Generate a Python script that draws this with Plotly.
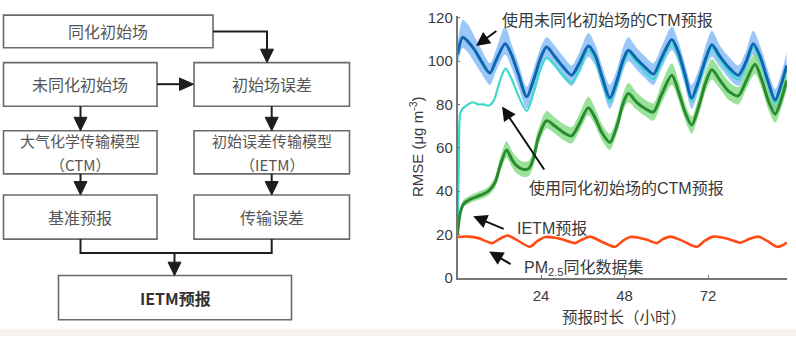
import plotly.graph_objects as go

# ---------------- data ----------------
# CTM forecast from the un-assimilated initial field (line and spread band)
t_blue = [0, 1.5, 3, 5, 7, 9.3, 11, 13.7, 15.5, 17.5,
          19.9, 22, 23.8, 25.6, 28, 30.5, 32.8, 35, 37.6, 39.5,
          41.5, 43.8, 46, 47.5, 49.1, 51.5, 54, 56.3, 58.5, 61.6,
          63.5, 65.5, 67.3, 69.5, 71.3, 73.1, 75.5, 78, 80.7, 83,
          85, 87, 89, 91.3, 93, 94.6]
rmse_blue = [103, 111, 109, 105, 99.5, 94.5, 100, 108, 103, 94,
             83.5, 92, 101, 106.5, 102, 97, 93.5, 99, 107, 103,
             93, 83, 92, 100, 105, 101, 97, 94, 101, 110,
             104, 93, 83, 92, 101, 107.5, 102, 97, 93.5, 100,
             108, 102, 92, 82, 89, 98]
blue_hi = [108, 119, 117, 111, 105, 99, 105, 116, 108, 99,
           88, 97, 106, 111, 107, 102, 98, 104, 113, 108,
           98, 89, 97, 106, 111, 106, 102, 99, 106, 116,
           109, 98, 89, 97, 107, 114, 107, 102, 98, 105,
           114, 107, 97, 87, 94, 104]
blue_lo = [98, 106, 104, 99, 94, 89, 95, 103, 97, 88,
           78, 87, 96, 101, 97, 92, 88.5, 94, 102, 98,
           88, 78, 87, 95, 100, 96, 92, 89, 96, 105,
           99, 88, 78, 87, 96, 102, 97, 92, 88.5, 95,
           103, 97, 87, 77, 84, 92]

# CTM forecast from the assimilated initial field
t_cyan = [0, 0.4, 0.8, 1.5, 3, 4.5, 6, 7.5, 9, 10.5,
          12, 13.8, 15.5, 17.5, 19.9, 22, 23.8, 25.6, 28, 30.5,
          32.8, 35, 37.6, 39.5, 41.5, 43.8, 46, 47.5, 49.1, 51.5,
          54, 56.3, 58.5, 61.6, 63.5, 65.5, 67.3, 69.5, 71.3, 73.1,
          75.5, 78, 80.7, 83, 85, 87, 89, 91.3, 93, 94.6]
rmse_cyan = [20, 55, 76, 78, 80, 81, 80, 80, 79.5, 82,
             90, 96.5, 92, 84, 77, 86, 96, 101.5, 98, 93,
             90, 96, 105, 101, 91, 81, 90, 98, 103.5, 99.5,
             95, 91.5, 99, 108, 102, 91, 81.5, 90, 99.5, 106,
             100.5, 95, 91.5, 98.5, 106.5, 100.5, 90.5, 80.5, 87.5, 96.5]

# IETM forecast (line and spread band)
t_green = [0, 0.8, 1.7, 3.6, 6.5, 8.9, 10.8, 12.2, 14.1, 15.5,
           16.8, 18.9, 20.5, 21.8, 23.2, 25.6, 28, 30.5, 32.8, 35,
           37.6, 39.5, 41.5, 43.8, 46, 47.5, 49.1, 51.5, 54, 56.3,
           58.5, 61.6, 63.5, 65.5, 67.3, 69.5, 71.3, 73.1, 75.5, 78,
           80.7, 83, 85.5, 87.5, 89.5, 91.3, 93, 94.6]
rmse_green = [20, 30, 34, 36.2, 38, 40, 44, 51.5, 59, 55,
              52, 50, 50.5, 55, 64.5, 72.5, 70, 67, 65.5, 71,
              78.5, 74, 67, 62.5, 71, 80, 85, 81, 78, 76.5,
              84, 93.5, 86, 76, 70.5, 80, 90, 96, 91, 86,
              84, 91, 98.5, 91, 81, 75.5, 82, 91]
green_hi = [20.5, 31.5, 36, 38, 40, 42, 46.5, 55, 63, 59,
            56, 53.5, 54, 59, 68.5, 77, 74, 71, 69.5, 75.5,
            83.5, 78.5, 71, 66.5, 75, 84.5, 90, 85.5, 82, 80.5,
            89, 99, 91, 80, 74.5, 84.5, 95, 101, 96, 90.5,
            88, 96, 103.5, 95.5, 85.5, 79.5, 86.5, 95.5]
green_lo = [19.5, 28.5, 32.5, 34.5, 36.2, 38, 41.5, 48.5, 55.5, 51.5,
            48.5, 46.5, 47, 51.5, 61, 69, 66.5, 63.5, 62, 67.5,
            75, 70.5, 63.5, 59, 67.5, 76.5, 81, 77.5, 74.5, 72.5,
            80, 89, 82, 72.5, 66.5, 76, 86, 91.5, 87, 82,
            80, 87, 94, 87, 77, 71.5, 78, 86.5]

# PM2.5 assimilation dataset
t_red = [0, 3, 6, 8, 10, 12, 14.4, 17, 20.8, 23,
         25.2, 28, 30.5, 33.8, 36, 38.1, 41, 45.3, 47.5, 49.6,
         52, 54.5, 57.3, 59, 61.1, 64, 68.8, 71, 73.5, 76,
         78.5, 81.2, 84, 86.5, 89, 91.8, 93.5, 94.6]
rmse_red = [18.8, 19, 18.3, 17, 16, 17.8, 19.5, 17.5, 14.3, 17,
            18.8, 18.5, 17.5, 16, 17.8, 19, 17, 14.3, 17, 18.8,
            18.5, 17.5, 16, 17.8, 19, 17.5, 14.3, 17, 19, 18.6,
            17.6, 16.2, 18, 19, 17, 14.3, 15, 16.3]

x_ticks = [24, 48, 72]
y_ticks = [0, 20, 40, 60, 80, 100, 120]

FONT = "Liberation Sans, Arial, Noto Sans CJK SC, sans-serif"
CJK = "Noto Sans CJK SC, Liberation Sans, sans-serif"

fig = go.Figure()


def band(t, lo, hi, color):
    fig.add_trace(go.Scatter(x=t, y=lo, mode="lines", line=dict(width=0, shape="spline", smoothing=0.8),
                             showlegend=False, hoverinfo="skip"))
    fig.add_trace(go.Scatter(x=t, y=hi, mode="lines", line=dict(width=0, shape="spline", smoothing=0.8),
                             fill="tonexty", fillcolor=color, showlegend=False, hoverinfo="skip"))


def curve(t, v, color, width):
    fig.add_trace(go.Scatter(x=t, y=v, mode="lines",
                             line=dict(color=color, width=width, shape="spline", smoothing=0.8),
                             showlegend=False, hoverinfo="skip"))


band(t_blue, blue_lo, blue_hi, "rgba(120,180,245,0.75)")
curve(t_cyan, rmse_cyan, "#3fd9cc", 2.2)
curve(t_blue, rmse_blue, "#0f66b0", 3)
band(t_green, green_lo, green_hi, "rgba(120,215,120,0.75)")
curve(t_green, rmse_green, "#2a8a2e", 3)
curve(t_red, rmse_red, "#ff4a14", 2.6)

# canvas axes (pixel units) used for the flowchart drawing
fig.add_trace(go.Scatter(x=[], y=[], xaxis="x2", yaxis="y2", showlegend=False, hoverinfo="skip"))

W, H = 796, 344
px_x0, px_x1 = 457.5, 787
px_y0, px_y1 = 283.3, 10

fig.update_layout(
    width=W, height=H,
    margin=dict(l=0, r=0, t=0, b=0),
    paper_bgcolor="white", plot_bgcolor="rgba(0,0,0,0)",
    font=dict(family=FONT, color="#3a3a3a"),
    xaxis=dict(domain=[px_x0 / W, px_x1 / W], range=[0, 94.7], tickvals=x_ticks,
               ticks="inside", ticklen=3, tickcolor="#777", showgrid=False, zeroline=False,
               showline=True, linecolor="#777", linewidth=1.5, tickfont=dict(size=15, color="#3a3a3a"),
               ticklabelstandoff=3, anchor="y"),
    yaxis=dict(domain=[1 - px_y0 / H, 1 - px_y1 / H], range=[0, 121], tickvals=y_ticks,
               ticks="inside", ticklen=3, tickcolor="#777", showgrid=False, zeroline=False,
               showline=True, linecolor="#777", linewidth=1.5, tickfont=dict(size=15, color="#3a3a3a"),
               anchor="x"),
    xaxis2=dict(domain=[0, 1], range=[0, W], visible=False, anchor="y2", fixedrange=True),
    yaxis2=dict(domain=[0, 1], range=[H, 0], visible=False, anchor="x2", fixedrange=True),
)

shapes = []
annots = []

# light strip along the bottom edge
shapes.append(dict(type="rect", xref="x2", yref="y2", x0=0, x1=W, y0=337, y1=H,
                   fillcolor="#f6f2ee", line=dict(width=0), layer="below"))

# flowchart boxes: (x0, y0, x1, y1, text lines, bold)
boxes = [
    (3.5, 9.5, 213, 43.5, ["同化初始场"], False),
    (3.5, 59, 157, 104.5, ["未同化初始场"], False),
    (194, 59, 349.5, 104.5, ["初始场误差"], False),
    (3.5, 130, 157, 175, ["大气化学传输模型", "（CTM）"], False),
    (194, 130, 349.5, 175, ["初始误差传输模型", "（IETM）"], False),
    (3.5, 197, 157, 243, ["基准预报"], False),
    (194, 197, 349.5, 243, ["传输误差"], False),
    (58.5, 281, 291.5, 327, ["IETM预报"], True),
]
for x0, y0, x1, y1, lines, bold in boxes:
    shapes.append(dict(type="rect", xref="x2", yref="y2", x0=x0, x1=x1, y0=y0, y1=y1,
                       line=dict(color="#6a6a6a", width=1.6), fillcolor="white"))
    cx, cy = (x0 + x1) / 2, (y0 + y1) / 2
    color = "#333" if bold else "#555"
    if len(lines) == 1:
        txt = f"<b>{lines[0]}</b>" if bold else lines[0]
        annots.append(dict(xref="x2", yref="y2", x=cx, y=cy, text=txt, showarrow=False,
                           font=dict(family=CJK, size=16, color=color),
                           xanchor="center", yanchor="middle"))
    else:
        # two stacked lines meeting at the box centre
        font = dict(family=CJK, size=15, color=color)
        annots.append(dict(xref="x2", yref="y2", x=cx, y=cy, text=lines[0], showarrow=False,
                           font=font, xanchor="center", yanchor="bottom", borderpad=0))
        annots.append(dict(xref="x2", yref="y2", x=cx, y=cy + 0.5, text=lines[1], showarrow=False,
                           font=font, xanchor="center", yanchor="top", borderpad=0))

LINE = dict(color="#1e1e1e", width=2)


def seg(path):
    shapes.append(dict(type="path", xref="x2", yref="y2", path=path, line=LINE))


def head(x, y, direction, w=13, l=14):
    # filled triangle with its tip at (x, y)
    if direction == "down":
        p = f"M{x},{y} L{x - w / 2},{y - l} L{x + w / 2},{y - l} Z"
    else:  # right
        p = f"M{x},{y} L{x - l},{y - w / 2} L{x - l},{y + w / 2} Z"
    shapes.append(dict(type="path", xref="x2", yref="y2", path=p,
                       fillcolor="#1e1e1e", line=dict(color="#1e1e1e", width=1)))


# connectors
seg("M213,26.5 L267,26.5 L267,48")
head(267, 59, "down")
seg("M157,81.5 L182,81.5")
head(193.5, 81.5, "right")
seg("M80.5,104.5 L80.5,120")
head(80.5, 130, "down")
seg("M271.7,104.5 L271.7,120")
head(271.7, 130, "down")
seg("M80.5,175 L80.5,187")
head(80.5, 197, "down")
seg("M271.7,175 L271.7,187")
head(271.7, 197, "down")
seg("M80.5,243 L80.5,257.5 L271.7,257.5 L271.7,243")
seg("M174.5,257.5 L174.5,270")
head(174.5, 281, "down")

# chart callouts: arrow (tail -> tip) and label
callouts = [
    ((11.6, 114.4), (5.3, 107.0)),
    ((25.2, 49.3), (12.8, 79.0)),
    ((13.7, 22.3), (4.5, 28.4)),
    ((15.7, 5.9), (9.1, 12.1)),
]
for (tx, ty), (hx, hy) in callouts:
    annots.append(dict(x=hx, y=hy, ax=tx, ay=ty, xref="x", yref="y", axref="x", ayref="y",
                       text="", showarrow=True, arrowhead=2, arrowsize=1.4, arrowwidth=2,
                       arrowcolor="#111", standoff=0, startstandoff=0))

labels = [
    (12.2, 118.8, "使用未同化初始场的CTM预报"),
    (19.9, 41.2, "使用同化初始场的CTM预报"),
    (16.5, 22.9, "IETM预报"),
    (18.5, 4.4, "PM<sub>2.5</sub>同化数据集"),
]
for x, y, s in labels:
    annots.append(dict(x=x, y=y, xref="x", yref="y", text=s, showarrow=False,
                       xanchor="left", yanchor="middle",
                       font=dict(family=FONT, size=16, color="#3a3a3a")))

# axis titles
annots.append(dict(xref="x2", yref="y2", x=416, y=147, text="RMSE (μg m<sup>-3</sup>)",
                   textangle=-90, showarrow=False, xanchor="center", yanchor="middle",
                   font=dict(family=FONT, size=15, color="#3a3a3a")))
annots.append(dict(xref="x2", yref="y2", x=624, y=323, text="预报时长（小时）",
                   showarrow=False, xanchor="center", yanchor="middle",
                   font=dict(family=CJK, size=15.5, color="#3a3a3a")))

fig.update_layout(shapes=shapes, annotations=annots)
fig.write_html("out.html")
